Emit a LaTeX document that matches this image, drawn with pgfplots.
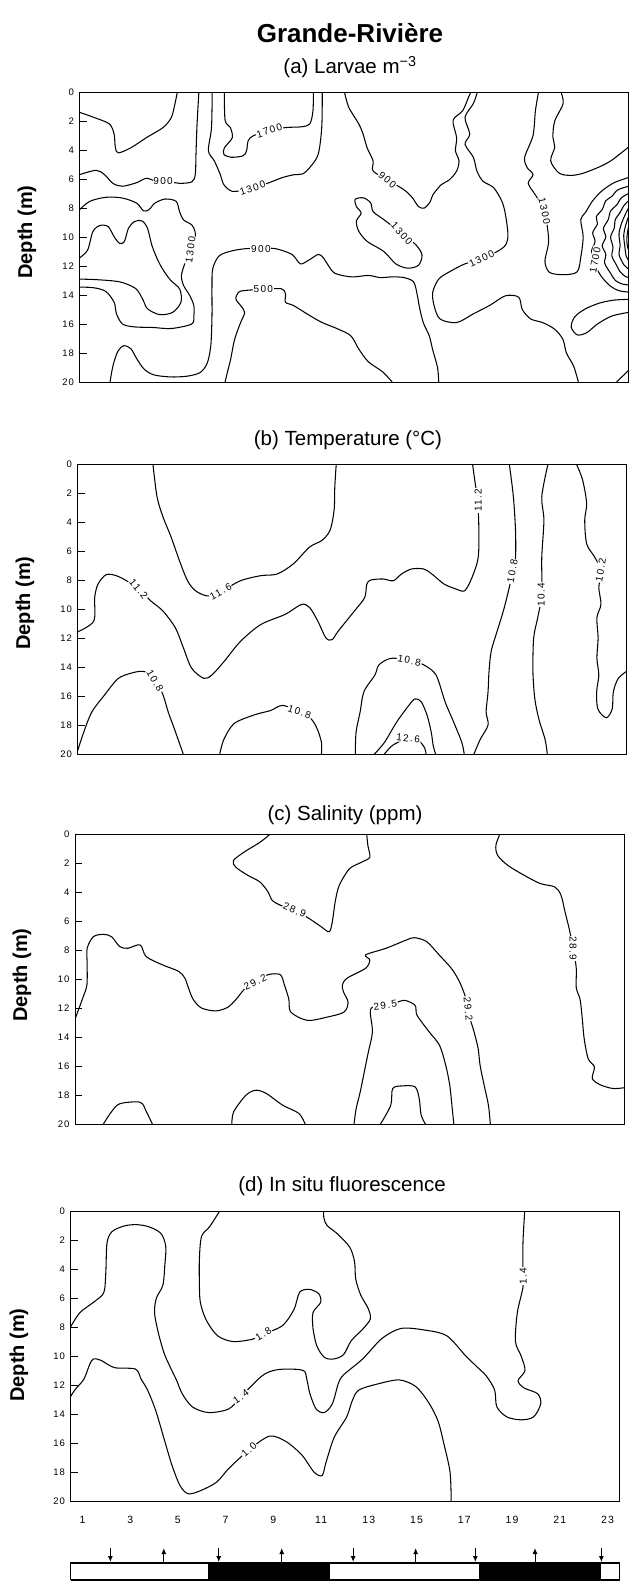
\documentclass[border=0pt]{standalone}
\usepackage{fontspec}
\setmainfont{Liberation Sans}
\newfontfamily\tickfont[LetterSpace=12]{Liberation Sans}
\newfontfamily\labfont[LetterSpace=14]{Liberation Sans}
\usepackage{pgfplots}
\pgfplotsset{compat=1.18}
\usetikzlibrary{arrows.meta}
\pgfplotsset{
 panel/.style={scale only axis, width=549pt, height=290pt, anchor=north west,
   xmin=0.5, xmax=23.5, ymin=0, ymax=20, y dir=reverse,
   ytick={0,2,...,20}, yticklabels={0,2,4,6,8,10,12,14,16,18,20},
   xtick=\empty, ytick pos=left, tick align=inside, major tick length=7pt,
   tick style={line width=0.8pt, black},
   axis line style={line width=1pt},
   yticklabel style={font=\tickfont\fontsize{9.5}{10}\selectfont, xshift=-2pt},
 },
 cl/.style={black, line width=1.05pt, smooth, tension=0.5, mark=none},
}
\tikzset{lab/.style={fill=white, inner sep=0.8pt, font=\labfont\fontsize{10}{11}\selectfont}}
\begin{document}
\begin{tikzpicture}
\path (0pt,0pt) rectangle (639pt,-1585pt);
\node[font=\bfseries\fontsize{26}{28}\selectfont] at (350pt,-33pt) {Grande-Rivière};
\node[font=\fontsize{20.5}{22}\selectfont] at (350pt,-67pt) {(a) Larvae m\textsuperscript{−3}};
\node[font=\fontsize{20.5}{22}\selectfont] at (348pt,-440pt) {(b) Temperature (°C)};
\node[font=\fontsize{20.5}{22}\selectfont] at (345pt,-815pt) {(c) Salinity (ppm)};
\node[font=\fontsize{20.5}{22}\selectfont] at (342pt,-1186pt) {(d) In situ fluorescence};
\node[font=\bfseries\fontsize{20}{22}\selectfont, rotate=90] at (27pt,-232pt) {Depth (m)};
\node[font=\bfseries\fontsize{20}{22}\selectfont, rotate=90] at (25pt,-603pt) {Depth (m)};
\node[font=\bfseries\fontsize{20}{22}\selectfont, rotate=90] at (22pt,-975pt) {Depth (m)};
\node[font=\bfseries\fontsize{20}{22}\selectfont, rotate=90] at (19pt,-1355pt) {Depth (m)};

% ---------------- (a) Larvae ----------------
\begin{axis}[panel, at={(79.5pt,-92pt)}]
\addplot[cl] coordinates {(0.5,1.4) (1.1,1.75) (1.75,2.2) (1.95,2.9) (2.0,3.8) (2.12,4.2) (2.65,3.85) (3.3,3.15) (4.0,2.45) (4.35,1.75) (4.5,0.8) (4.6,0)};
\addplot[cl] coordinates {(0.5,5.7) (1.2,5.4) (1.55,5.7) (1.9,6.3) (2.3,6.5) (2.9,6.25) (3.3,5.95) (3.7,6.15) (4.3,6.2) (4.7,6.3) (5.2,6.2) (5.35,5.7) (5.38,4.3) (5.42,2.4) (5.5,0)};
\addplot[cl] coordinates {(6.06,0) (6.03,2.45) (5.9,4.05) (6.15,4.75) (6.4,5.7) (6.55,6.4) (6.9,6.85) (7.4,6.75) (7.8,6.6) (8.45,6.25) (9.0,5.9) (9.5,5.7) (9.85,5.65) (10.15,5.2) (10.5,4.3) (10.65,2.4) (10.67,0)};
\addplot[cl] coordinates {(6.57,0) (6.6,1.95) (6.82,2.45) (6.9,3.15) (6.57,3.85) (6.55,4.3) (6.85,4.5) (7.35,4.4) (7.5,4.05) (7.57,3.35) (7.8,3.0) (8.45,2.65) (9.15,2.45) (9.8,2.4) (10.15,2.2) (10.28,1.3) (10.3,0)};
\addplot[cl] coordinates {(11.6,0) (11.78,1.05) (12.2,2.2) (12.38,2.9) (12.55,3.85) (12.8,4.75) (12.8,5.45) (13.4,6.05) (14.1,6.75) (14.45,7.3) (14.7,7.9) (14.95,8.0) (15.2,7.55) (15.3,7.1) (15.65,6.4) (16.0,6.05) (16.3,5.45) (16.4,4.75) (16.25,4.05) (16.3,3.15) (16.15,1.95) (16.55,1.3) (16.8,0.35) (16.9,0)};
\addplot[cl, smooth cycle] coordinates {(12.05,7.4) (12.4,7.3) (12.7,7.65) (12.8,8.25) (13.25,8.8) (14.0,9.75) (14.6,10.55) (14.85,11.25) (14.7,11.95) (14.25,12.15) (13.75,11.85) (13.25,11.0) (12.55,10.3) (12.2,9.6) (12.1,8.9) (12.3,8.35) (12.1,7.9)};
\addplot[cl] coordinates {(17.17,0) (17.0,0.8) (16.65,1.75) (16.85,2.9) (16.65,3.6) (17.0,4.5) (17.15,5.45) (17.4,6.15) (17.85,6.6) (18.2,7.55) (18.35,8.5) (18.45,9.85) (18.35,10.55) (18.0,11.0) (17.35,11.5) (16.65,11.85) (16.0,12.4) (15.55,12.9) (15.3,13.8) (15.35,14.7) (15.6,15.65) (16.3,15.9) (17.0,15.3) (17.7,14.7) (18.35,14.05) (18.9,14.15) (19.05,15.0) (19.4,15.65) (19.9,15.9) (20.4,16.35) (20.75,17.05) (20.9,18.0) (21.2,18.9) (21.4,20)};
\addplot[cl] coordinates {(19.73,0) (19.6,1.3) (19.5,3.0) (19.15,4.5) (19.25,5.2) (19.5,5.7) (19.3,6.3) (19.6,7.1) (19.95,8.1) (20.1,9.3) (20.15,10.4) (20.0,11.7) (20.2,12.45) (20.8,12.6) (21.35,12.4) (21.5,11.4) (21.6,10.0) (21.5,8.8) (21.7,8.3) (22.0,7.5) (22.4,6.8) (22.9,6.25) (23.5,5.9)};
\addplot[cl] coordinates {(20.67,0) (20.76,0.8) (20.41,2.0) (20.33,3.1) (20.41,3.8) (20.24,4.75) (20.6,5.6) (21.1,5.75) (21.6,5.6) (22.3,5.15) (22.8,4.7) (23.5,3.8)};
\addplot[cl] coordinates {(23.5,6.5) (23.05,6.75) (22.8,7.2) (22.55,7.5) (22.4,8.1) (22.15,8.6) (22.2,9.1) (22.0,9.7) (22.1,10.3) (21.95,11.0) (22.15,11.5) (22.15,12.1) (22.4,12.8) (22.75,13.4) (23.1,13.7) (23.5,13.8)};
\addplot[cl] coordinates {(23.5,7.0) (23.2,7.3) (23.0,7.8) (22.75,8.2) (22.65,8.8) (22.45,9.4) (22.55,10.0) (22.4,10.6) (22.55,11.2) (22.5,11.8) (22.75,12.5) (22.95,13.0) (23.25,13.25) (23.5,13.3)};
\addplot[cl] coordinates {(23.5,7.5) (23.3,7.85) (23.15,8.3) (22.95,8.8) (22.9,9.4) (22.75,10.0) (22.85,10.7) (22.8,11.3) (22.95,11.8) (23.15,12.4) (23.35,12.7) (23.5,12.8)};
\addplot[cl] coordinates {(23.5,8.0) (23.35,8.5) (23.2,9.1) (23.1,9.8) (23.15,10.6) (23.1,11.2) (23.3,11.9) (23.5,12.2)};
\addplot[cl] coordinates {(23.5,8.6) (23.38,9.2) (23.3,9.9) (23.35,10.7) (23.4,11.3) (23.5,11.6)};
\addplot[cl] coordinates {(23.5,9.3) (23.44,9.9) (23.44,10.5) (23.5,10.9)};
\addplot[cl] coordinates {(23.5,14.3) (22.9,14.35) (22.3,14.55) (21.7,14.95) (21.25,15.5) (21.1,16.2) (21.35,16.75) (21.75,16.6) (22.2,16.0) (22.8,15.45) (23.5,15.2)};
\addplot[cl] coordinates {(23.0,20) (23.25,19.6) (23.5,19.2)};
\addplot[cl] coordinates {(0.5,8.12) (0.93,7.54) (1.61,7.26) (2.29,7.31) (2.89,7.66) (3.18,8.19) (3.41,8.12) (3.66,7.66) (4.09,7.38) (4.55,7.54) (4.69,8.24) (4.86,8.82) (5.2,9.16) (5.34,9.63) (5.34,10.32) (5.15,11.2) (4.94,11.72) (4.77,12.65) (4.86,13.34) (5.12,14.04) (5.29,14.73) (5.29,15.43) (5.2,16.0) (4.35,16.31) (3.58,16.24) (2.8,16.2) (2.3,16.0) (2.05,15.3) (1.95,14.5) (1.6,13.75) (1.1,13.5) (0.5,13.45)};
\addplot[cl] coordinates {(0.5,11.44) (0.84,10.9) (1.06,9.63) (1.35,9.21) (1.7,9.28) (1.95,9.98) (2.18,10.44) (2.38,10.32) (2.55,9.4) (2.81,8.93) (3.12,8.89) (3.35,9.4) (3.53,10.56) (3.75,11.48) (3.97,12.18) (4.3,12.95) (4.7,13.6) (4.75,14.5) (4.4,15.2) (3.85,15.35) (3.35,14.95) (3.15,14.3) (2.85,13.55) (2.2,13.1) (1.3,12.95) (0.5,12.9)};
\addplot[cl] coordinates {(1.78,20) (1.9,18.9) (2.1,17.9) (2.35,17.5) (2.65,17.7) (2.9,18.4) (3.2,19.1) (3.6,19.5) (4.3,19.65) (5.0,19.6) (5.55,19.35) (5.85,18.7) (6.0,17.5) (6.05,15.5) (6.05,13.5) (6.08,12.2) (6.35,11.3) (6.9,10.95) (7.5,10.8) (8.1,10.8) (8.7,10.8) (9.4,11.2) (9.75,11.85) (10.1,11.6) (10.5,11.2) (10.7,11.4) (10.9,11.9) (11.2,12.5) (11.9,12.75) (12.6,12.65) (13.1,12.8) (13.6,12.75) (14.1,12.8) (14.5,13.1) (14.65,14.0) (14.75,14.9) (14.9,15.9) (15.15,16.8) (15.3,17.8) (15.5,19) (15.55,20)};
\addplot[cl] coordinates {(6.6,20) (6.7,19.3) (6.83,18.45) (7.0,17.05) (7.25,15.9) (7.42,15.2) (7.25,14.73) (7.05,14.27) (7.17,13.8) (7.42,13.69) (8.2,13.6) (8.96,13.57) (9.13,13.92) (9.13,14.5) (9.47,14.73) (10.16,15.43) (10.67,15.9) (11.35,16.36) (11.87,16.82) (12.21,17.75) (12.6,18.6) (13.2,19.3) (13.6,20)};
\node[lab] at (axis cs:4.0,6.15) {900};
\node[lab,rotate=18] at (axis cs:7.75,6.62) {1300};
\node[lab,rotate=18] at (axis cs:8.45,2.67) {1700};
\node[lab,rotate=-40] at (axis cs:13.4,6.05) {900};
\node[lab,rotate=-48] at (axis cs:14.0,9.75) {1300};
\node[lab,rotate=82] at (axis cs:5.15,10.9) {1300};
\node[lab] at (axis cs:8.1,10.8) {900};
\node[lab] at (axis cs:8.2,13.6) {500};
\node[lab,rotate=25] at (axis cs:17.35,11.5) {1300};
\node[lab,rotate=-78] at (axis cs:19.98,8.2) {1300};
\node[lab,rotate=80] at (axis cs:22.1,11.6) {1700};
\end{axis}

% ---------------- (b) Temperature ----------------
\begin{axis}[panel, at={(77.5pt,-464pt)}]
\addplot[cl] coordinates {(3.66,0) (3.83,2.25) (4.08,3.64) (4.42,5.03) (4.77,6.66) (5.11,8.05) (5.45,8.75) (5.96,9.1) (6.5,8.8) (7.33,8.05) (8.18,7.7) (8.86,7.59) (9.54,6.89) (10.22,5.73) (10.74,5.27) (11.08,4.57) (11.25,3.18) (11.28,1.55) (11.34,0)};
\addplot[cl] coordinates {(0.5,11.58) (1.18,10.84) (1.22,9.21) (1.36,8.28) (1.7,7.63) (2.12,7.7) (2.55,8.05) (3.06,8.63) (3.57,9.44) (4.08,10.14) (4.6,11.3) (4.94,12.69) (5.28,14.08) (5.79,14.78) (6.13,14.55) (6.64,13.62) (7.33,12.23) (8.18,11.07) (9.2,10.37) (9.89,9.68) (10.23,9.91) (10.57,10.84) (10.91,12.0) (11.17,12.11) (11.42,11.53) (12.1,10.14) (12.53,9.21) (12.62,8.28) (12.79,8.0) (13.3,7.93) (13.73,8.05) (14.07,7.59) (14.49,7.24) (15.0,7.24) (15.35,7.59) (15.86,8.28) (16.37,8.63) (16.71,8.75) (16.97,8.05) (17.23,6.89) (17.31,5.96) (17.31,4.11) (17.26,2.48) (17.14,1.09) (17.05,0)};
\addplot[cl] coordinates {(0.5,19.8) (0.76,18.5) (1.1,17.1) (1.6,16.0) (2.2,14.8) (2.8,14.4) (3.25,14.3) (3.6,14.6) (3.9,15.3) (4.1,16.0) (4.3,17.1) (4.5,18.0) (4.76,19.2) (4.93,20)};
\addplot[cl] coordinates {(6.46,20) (6.63,19.0) (7.06,17.9) (7.91,17.3) (8.59,17.0) (9.1,16.65) (9.87,17.15) (10.3,17.6) (10.55,18.3) (10.72,19.2) (10.72,20)};
\addplot[cl] coordinates {(12.14,20) (12.17,18.5) (12.34,17.1) (12.5,15.7) (12.96,14.55) (13.13,13.85) (13.64,13.4) (14.45,13.55) (15.0,13.85) (15.52,14.55) (15.9,16.4) (16.26,17.8) (16.6,19.2) (16.7,20)};
\addplot[cl] coordinates {(12.94,20) (13.36,19.2) (13.87,17.8) (14.38,16.65) (14.64,16.2) (14.9,16.4) (15.15,17.35) (15.32,18.5) (15.4,19.4) (15.5,20)};
\addplot[cl] coordinates {(13.36,20) (13.7,19.4) (14.3,18.95) (14.8,19.1) (15.05,19.6) (15.1,20)};
\addplot[cl] coordinates {(18.59,0) (18.76,2.25) (18.85,4.57) (18.85,6.43) (18.73,7.36) (18.59,8.51) (18.34,10.14) (18.08,11.53) (17.83,12.92) (17.74,14.32) (17.7,15.7) (17.62,17.1) (17.7,18.0) (17.37,19.0) (17.11,20)};
\addplot[cl] coordinates {(20.21,0) (19.95,2.25) (20.04,3.87) (19.95,6.43) (19.95,8.98) (19.78,10.6) (19.61,12.0) (19.58,14.32) (19.66,16.2) (19.83,17.6) (20.09,19.0) (20.18,20)};
\addplot[cl] coordinates {(21.4,0) (21.66,1.09) (21.83,2.71) (21.75,3.87) (21.83,5.5) (22.17,6.43) (22.43,7.36) (22.34,8.51) (22.43,9.68) (22.26,10.6) (22.31,12.0) (22.26,13.39) (22.34,14.55) (22.25,15.7) (22.3,16.9) (22.65,17.5) (22.9,16.9) (22.95,15.7) (23.15,14.8) (23.5,14.3)};
\node[lab,rotate=28] at (axis cs:6.5,8.8) {11.6};
\node[lab,rotate=-50] at (axis cs:3.06,8.63) {11.2};
\node[lab,rotate=90] at (axis cs:17.28,2.5) {11.2};
\node[lab,rotate=-60] at (axis cs:3.75,14.95) {10.8};
\node[lab,rotate=-18] at (axis cs:9.8,17.1) {10.8};
\node[lab,rotate=-12] at (axis cs:14.4,13.55) {10.8};
\node[lab,rotate=-5] at (axis cs:14.35,18.9) {12.6};
\node[lab,rotate=80] at (axis cs:18.72,7.4) {10.8};
\node[lab,rotate=90] at (axis cs:19.93,9.0) {10.4};
\node[lab,rotate=80] at (axis cs:22.42,7.3) {10.2};
\end{axis}

% ---------------- (c) Salinity ----------------
\begin{axis}[panel, at={(75pt,-834pt)}]
\addplot[cl] coordinates {(8.68,0) (8.25,0.57) (7.57,1.26) (7.14,1.83) (7.23,2.28) (7.74,2.85) (8.25,3.31) (8.59,4.0) (8.76,4.57) (9.1,4.91) (9.7,5.25) (10.3,5.82) (10.81,6.39) (11.15,6.74) (11.28,6.05) (11.4,4.68) (11.57,3.54) (12.0,2.4) (12.51,1.94) (12.85,1.6) (12.77,0.8) (12.72,0)};
\addplot[cl] coordinates {(18.3,0) (18.13,0.8) (18.21,1.48) (18.64,2.17) (19.32,2.85) (20.0,3.42) (20.6,3.65) (20.86,4.22) (21.03,5.37) (21.2,6.51) (21.37,7.88) (21.5,9.25) (21.5,10.6) (21.66,11.4) (21.75,12.7) (21.83,14.1) (22.0,15.5) (22.26,16.06) (22.17,16.86) (22.51,17.3) (23.03,17.55) (23.5,17.5)};
\addplot[cl] coordinates {(0.5,12.78) (0.65,12.1) (0.85,11.2) (1.0,10.4) (1.01,9.0) (1.01,7.88) (1.27,7.08) (1.69,6.92) (2.03,7.08) (2.37,7.76) (2.71,7.88) (3.23,7.65) (3.48,8.45) (4.16,9.02) (4.84,9.47) (5.1,9.93) (5.25,10.6) (5.45,11.4) (5.8,12.0) (6.4,12.2) (6.9,11.95) (7.25,11.4) (7.6,10.7) (8.05,10.2) (8.59,9.7) (9.1,9.7) (9.27,10.39) (9.46,11.4) (9.54,12.28) (10.23,12.85) (11.08,12.62) (11.77,12.28) (11.94,11.6) (11.75,10.9) (11.7,10.4) (11.91,9.93) (12.68,9.25) (12.85,8.68) (12.68,8.33) (13.53,7.88) (14.38,7.31) (14.72,7.15) (15.23,7.42) (15.75,8.33) (16.26,9.25) (16.6,10.16) (16.85,11.2) (16.97,12.05) (17.05,12.73) (17.22,13.65) (17.39,14.8) (17.47,15.94) (17.64,17.32) (17.82,18.7) (17.9,20)};
\addplot[cl] coordinates {(12.19,20) (12.28,18.93) (12.45,17.78) (12.62,16.4) (12.79,15.03) (12.96,13.65) (12.87,12.28) (13.0,11.9) (13.47,11.82) (14.0,11.6) (14.32,11.47) (14.75,11.82) (14.83,12.5) (15.34,13.65) (15.77,14.57) (16.03,15.94) (16.2,17.32) (16.29,18.7) (16.37,20)};
\addplot[cl] coordinates {(13.3,20) (13.73,18.7) (13.81,17.55) (14.24,17.37) (14.75,17.44) (14.92,18.24) (15.0,19.37) (15.18,20)};
\addplot[cl] coordinates {(1.69,20) (2.03,19.15) (2.38,18.6) (3.23,18.5) (3.49,19.15) (3.74,20)};
\addplot[cl] coordinates {(7.07,20) (7.15,19.15) (7.67,18.0) (8.09,17.67) (8.52,17.9) (9.2,18.7) (9.88,19.27) (10.14,20)};
\node[lab,rotate=-22] at (axis cs:9.7,5.25) {28.9};
\node[lab,rotate=-90] at (axis cs:21.37,7.9) {28.9};
\node[lab,rotate=25] at (axis cs:8.05,10.2) {29.2};
\node[lab,rotate=-85] at (axis cs:16.97,12.05) {29.2};
\node[lab,rotate=8] at (axis cs:13.5,11.8) {29.5};
\end{axis}

% ---------------- (d) Fluorescence ----------------
\begin{axis}[panel, at={(70.5pt,-1211pt)},
  xtick={1,3,...,23}, xticklabels={1,3,5,7,9,11,13,15,17,19,21,23},
  xtick style={draw=none},
  xticklabel style={font=\tickfont\fontsize{10.5}{11}\selectfont, yshift=-12pt}]
\addplot[cl] coordinates {(19.53,0) (19.46,2.0) (19.45,3.8) (19.46,5.2) (19.22,7.0) (19.14,9.0) (19.38,10.0) (19.54,11.0) (19.25,11.7) (19.5,12.2) (20.07,12.6) (20.2,13.3) (19.9,14.2) (19.38,14.4) (18.78,14.2) (18.36,13.5) (18.27,12.35) (17.93,11.4) (17.5,10.7) (17.06,10.0) (16.26,8.6) (15.3,8.2) (14.34,8.1) (13.54,8.8) (12.74,10.2) (11.94,11.3) (11.72,11.9) (11.47,13.3) (11.13,13.9) (10.79,13.65) (10.53,12.6) (10.4,11.6) (10.26,11.0) (9.55,10.9) (9.0,11.0) (8.5,11.4) (7.64,12.8) (7.13,13.65) (6.28,13.9) (5.6,13.5) (5.18,12.6) (4.95,11.7) (4.66,10.7) (4.42,9.8) (4.18,8.4) (4.02,7.0) (4.1,6.0) (4.37,5.12) (4.45,3.78) (4.49,2.43) (4.28,1.53) (3.77,1.08) (3.26,0.94) (2.75,1.03) (2.24,1.42) (2.03,2.2) (1.98,4.22) (1.9,5.6) (1.54,6.2) (0.9,7.0) (0.5,8.0)};
\addplot[cl] coordinates {(0.5,12.8) (0.7,12.3) (1.06,11.6) (1.3,10.6) (1.46,10.2) (1.78,10.3) (2.34,10.8) (3.22,10.9) (3.46,11.6) (3.73,12.35) (4.07,13.76) (4.41,15.65) (4.75,17.53) (5.09,18.94) (5.43,19.5) (5.94,19.29) (6.62,18.7) (7.13,17.76) (7.98,16.47) (8.83,15.53) (9.51,15.88) (10.19,16.82) (10.7,18.0) (11.04,18.24) (11.21,17.3) (11.55,15.6) (12.07,14.2) (12.3,13.1) (12.58,12.35) (13.43,11.9) (14.28,11.65) (14.96,12.1) (15.5,13.2) (15.9,14.5) (16.15,16.1) (16.4,18.0) (16.45,20)};
\addplot[cl] coordinates {(6.75,0) (6.33,1.08) (5.99,1.75) (5.9,3.3) (5.9,5.0) (5.94,6.3) (6.18,7.5) (6.66,8.6) (7.3,9.0) (8.1,8.85) (8.58,8.5) (9.38,7.9) (9.86,6.8) (10.1,5.6) (10.5,5.4) (10.9,5.7) (10.98,6.3) (10.66,7.0) (10.66,8.1) (10.82,9.3) (11.14,10.1) (11.54,10.2) (11.94,9.9) (12.26,8.95) (12.74,8.15) (13.06,7.45) (12.98,6.75) (12.66,5.8) (12.45,4.7) (12.4,3.5) (12.2,2.5) (11.7,1.6) (11.25,1.0) (11.12,0.5) (11.1,0)};
\node[lab,rotate=32] at (axis cs:8.58,8.5) {1.8};
\node[lab,rotate=35] at (axis cs:7.64,12.8) {1.4};
\node[lab,rotate=42] at (axis cs:7.98,16.47) {1.0};
\node[lab,rotate=90] at (axis cs:19.47,4.5) {1.4};
\end{axis}

% ---------------- tide / light bar ----------------
\begin{axis}[at={(70.5pt,-1547pt)}, anchor=north west, scale only axis,
  width=549pt, height=33pt, xmin=0.5, xmax=23.5, ymin=0, ymax=33,
  axis lines=none, clip=false]
\addplot[fill=white, draw=black, line width=1.2pt] coordinates {(0.5,0) (23.5,0) (23.5,17) (0.5,17) (0.5,0)};
\addplot[fill=black, draw=black, line width=1pt] coordinates {(6.28,0) (11.35,0) (11.35,17) (6.28,17) (6.28,0)};
\addplot[fill=black, draw=black, line width=1pt] coordinates {(17.63,0) (22.7,0) (22.7,17) (17.63,17) (17.63,0)};
\addplot[line width=1pt, -{Latex[length=6pt,width=5pt]}] coordinates {(2.17,32) (2.17,18)};
\addplot[line width=1pt, -{Latex[length=6pt,width=5pt]}] coordinates {(4.41,18) (4.41,32)};
\addplot[line width=1pt, -{Latex[length=6pt,width=5pt]}] coordinates {(6.71,32) (6.71,18)};
\addplot[line width=1pt, -{Latex[length=6pt,width=5pt]}] coordinates {(9.35,18) (9.35,32)};
\addplot[line width=1pt, -{Latex[length=6pt,width=5pt]}] coordinates {(12.34,32) (12.34,18)};
\addplot[line width=1pt, -{Latex[length=6pt,width=5pt]}] coordinates {(14.96,18) (14.96,32)};
\addplot[line width=1pt, -{Latex[length=6pt,width=5pt]}] coordinates {(17.46,32) (17.46,18)};
\addplot[line width=1pt, -{Latex[length=6pt,width=5pt]}] coordinates {(19.96,18) (19.96,32)};
\addplot[line width=1pt, -{Latex[length=6pt,width=5pt]}] coordinates {(22.74,32) (22.74,18)};
\end{axis}
\end{tikzpicture}
\end{document}
